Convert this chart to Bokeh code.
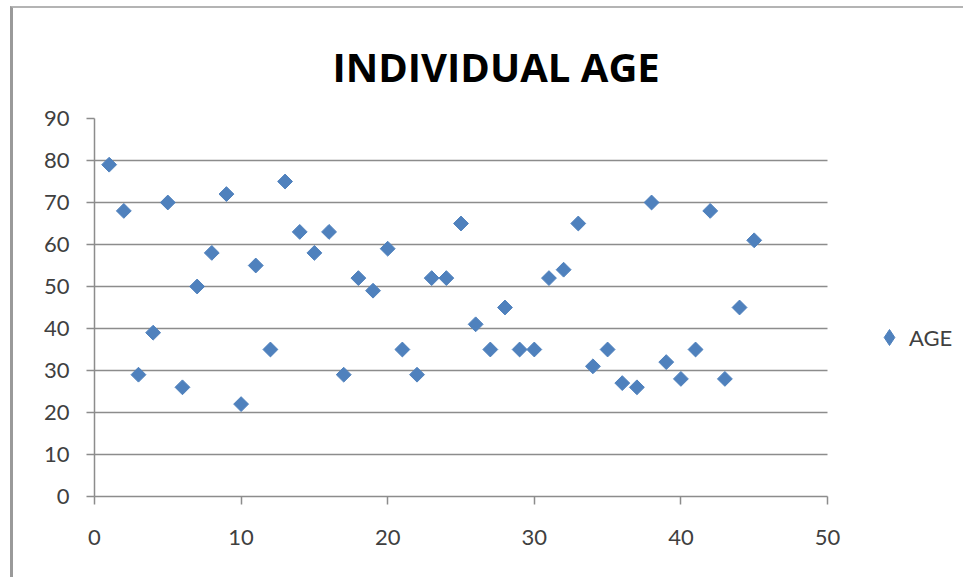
from bokeh.plotting import figure
from bokeh.models import Range1d, FixedTicker, Legend, LegendItem, ColumnDataSource
from bokeh.embed import file_html
from bokeh.resources import INLINE
import math

# Data
individual = list(range(1, 46))
age = [79, 68, 29, 39, 70, 26, 50, 58, 72, 22, 55, 35, 75, 63, 58, 63, 29, 52, 49, 59,
       35, 29, 52, 52, 65, 41, 35, 45, 35, 35, 52, 54, 65, 31, 35, 27, 26, 70, 32, 28,
       35, 68, 28, 45, 61]
x_ticks = [0, 10, 20, 30, 40, 50]
y_ticks = [0, 10, 20, 30, 40, 50, 60, 70, 80, 90]
x_axis_max = 50
y_axis_max = 90
series_name = "AGE"
title_text = "INDIVIDUAL AGE"

BLUE = "#4F81BD"
GRID = "#8C8C8C"
TXT = "#404040"

# layout (pixels): content box starts at page (13, 8)
W, H = 953, 571
LEFT, TOP, BOTTOM = 81, 110, 83
AXIS_PX = 733                       # pixel length of the 0..50 x axis
FRAME_W = W - LEFT                  # frame extends to the right edge (room for legend)
x_end = x_axis_max * FRAME_W / AXIS_PX

p = figure(width=W, height=H, output_backend="svg", toolbar_location=None,
           x_range=Range1d(0, x_end), y_range=Range1d(0, y_axis_max),
           min_border_left=LEFT, min_border_right=0, min_border_top=TOP,
           min_border_bottom=BOTTOM)
p.outline_line_color = None
p.background_fill_color = "white"
p.border_fill_color = "white"
p.styles = {"margin-left": "10px", "margin-top": "6px",
            "border-left": "3px solid #9A9A9A", "border-top": "2px solid #B4B4B4"}

src = ColumnDataSource(dict(x=individual, y=age))
r = p.scatter("x", "y", source=src, marker="square", angle=math.pi / 4, size=10.5,
              fill_color=BLUE, line_color=BLUE, line_width=1)
# legend-only glyph (diamond); hidden in the plot itself
leg_r = p.scatter("x", "y", source=src, marker="diamond", fill_color=BLUE, line_color=BLUE)
leg_r.visible = False

# Title
p.title.text = title_text
p.title.text_font = "Open Sans"
p.title.text_font_style = "bold"
p.title.text_font_size = "40px"
p.title.text_color = "black"
p.title.align = "left"
p.title.vertical_align = "top"
p.title.offset = 238
p.title.standoff = 45

# Axes
for ax in (p.xaxis[0], p.yaxis[0]):
    ax.axis_line_color = GRID
    ax.axis_line_width = 1.5
    ax.major_tick_line_color = GRID
    ax.major_tick_line_width = 1.5
    ax.major_tick_out = 8
    ax.major_tick_in = 0
    ax.minor_tick_line_color = None
    ax.major_label_text_font = "Lato"
    ax.major_label_text_font_size = "22px"
    ax.major_label_text_color = TXT
p.xaxis[0].ticker = FixedTicker(ticks=x_ticks)
p.xaxis[0].bounds = (0, x_axis_max)
p.yaxis[0].ticker = FixedTicker(ticks=y_ticks)
p.xaxis[0].major_label_standoff = 25
p.yaxis[0].major_label_standoff = 17

p.xgrid.grid_line_color = None
p.ygrid.ticker = FixedTicker(ticks=y_ticks)
p.ygrid.cross_bounds = (0, x_axis_max)
p.ygrid.grid_line_color = GRID
p.ygrid.grid_line_width = 1.5

# Legend, to the right of the axis area
legend = Legend(items=[LegendItem(label=series_name, renderers=[leg_r])],
                location=(775, 139), padding=0, margin=0, spacing=0,
                glyph_width=40, glyph_height=40, label_standoff=0,
                label_text_font="Lato", label_text_font_size="22px",
                label_text_color=TXT, border_line_color=None,
                background_fill_alpha=0, inactive_fill_alpha=0)
p.add_layout(legend)

open("out.html", "w").write(file_html(p, INLINE))
